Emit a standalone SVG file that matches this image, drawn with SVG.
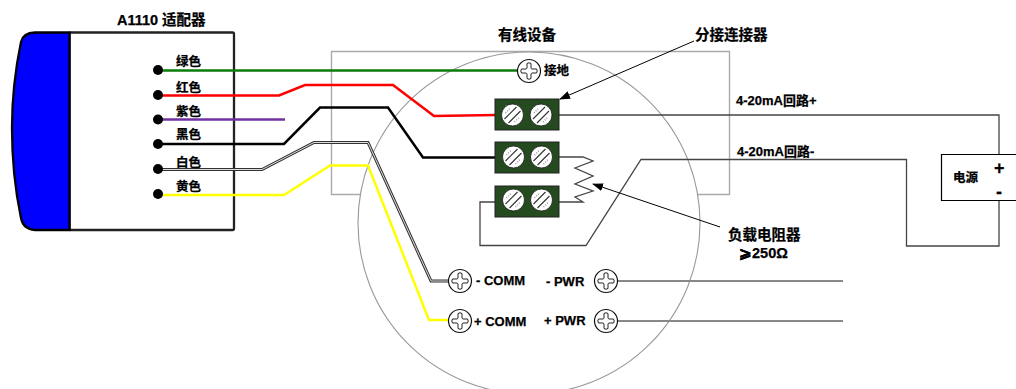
<svg xmlns="http://www.w3.org/2000/svg" xmlns:xlink="http://www.w3.org/1999/xlink" width="1016" height="389" viewBox="0 0 1016 389">
<style>
text{font-family:"Liberation Sans","Noto Sans CJK SC",sans-serif;font-weight:bold;fill:#000;font-size:12.500px;stroke:#000;stroke-width:.25}
.big{font-size:14.500px}
.w{fill:none;stroke-linejoin:miter}
.thin{fill:none;stroke:#444;stroke-width:1.300}
.gray{fill:none;stroke:#aaa;stroke-width:1.400}
.dot{fill:#000}
.block{fill:#254a20;stroke:#222;stroke-width:1}
</style>
<defs>
<marker id="ah" markerWidth="12" markerHeight="10" refX="10" refY="4" orient="auto" markerUnits="userSpaceOnUse"><path d="M0,0L11,4L0,8z" fill="#000"/></marker>
<g id="cross"><circle r="11.500" fill="#fff" stroke="#111" stroke-width="1.200"/><path d="M-2,-7.500Q0,-9 2,-7.500L2,-3Q2.500,-2 3,-2L7.500,-2Q9,0 7.500,2L3,2Q2,2.500 2,3L2,7.500Q0,9 -2,7.500L-2,3Q-2.500,2 -3,2L-7.500,2Q-9,0 -7.500,-2L-3,-2Q-2,-2.500 -2,-3z" fill="#fff" stroke="#222" stroke-width="1"/></g>
<g id="slot"><circle r="11" fill="#fff" stroke="#111" stroke-width="0.800"/><path d="M-8,4L4,-8M-4,8L8,-4" stroke="#333" stroke-width="1.100" fill="none"/><path d="M-7,-2L-2,-7M2,7L7,2" stroke="#999" stroke-width="1.500" stroke-dasharray="1 1.500" fill="none"/></g>
</defs>
<g id="wired-device-box"><path class="gray" d="M331.500,194.500V51.500H729.500V194.500H331.500z"/></g>
<g id="wired-device-circle"><circle cx="529" cy="223" r="171" fill="#fff" stroke="#999" stroke-width="1.100"/></g>
<g id="adapter">
<rect x="69.500" y="32.500" width="164.500" height="197.500" rx="1.500" fill="#fff" stroke="#222" stroke-width="2.300"/>
<path d="M69.500,32.500H35Q23,33 21,42Q12,85 12,128Q12,175 21,218Q23,229 35,230H69.500z" fill="#00f" stroke="#000" stroke-width="2.300"/>
</g>
<g id="connectors">
<path class="w" stroke="#0a7d0a" stroke-width="2.500" d="M158,70.500H518"/>
<path class="w" stroke="#f00" stroke-width="2.500" d="M158,95.500H279L305,85H393L434,116L496,115"/>
<path class="w" stroke="#7030a0" stroke-width="2.500" d="M158,119.500H285"/>
<path class="w" stroke="#000" stroke-width="2.500" d="M158,144H284L320,107.500H388L423,157.500H496"/>
<path class="w" stroke="#333" stroke-width="3" d="M158,169.500H262L314,142.500H368L431,281H449"/>
<path class="w" stroke="#ddd" stroke-width="1" d="M158,169.500H262L314,142.500H368L431,281H449"/>
<path class="w" stroke="#ff0" stroke-width="2.500" d="M158,195H284L330,165.500H368L429,320H450"/>
<path class="thin" d="M559,115H999V154"/>
<path class="thin" d="M999,200V246H906.500V159.500H641L586,245.500H480V202H496"/>
<path class="thin" d="M559,157H583L593,161L575,168L593,176L575,184L593,191L575,197L583,202H559"/>
<path fill="none" stroke="#888" stroke-width="2.200" d="M618,281H843M618,321H843"/>
<path fill="none" stroke="#000" stroke-width="1" marker-end="url(#ah)" d="M694,41L560,99"/>
<path fill="none" stroke="#000" stroke-width="1" marker-end="url(#ah)" d="M720,227L593,184"/>
</g>
<g id="pins">
<circle class="dot" cx="158" cy="70" r="5"/><circle class="dot" cx="158" cy="95" r="5"/><circle class="dot" cx="158" cy="119.500" r="5"/><circle class="dot" cx="158" cy="144" r="5"/><circle class="dot" cx="158" cy="169" r="5"/><circle class="dot" cx="158" cy="194" r="5"/>
</g>
<g id="terminal-1"><rect class="block" x="495" y="99" width="64" height="31"/><use xlink:href="#slot" href="#slot" x="512.500" y="115"/><use xlink:href="#slot" href="#slot" x="541" y="115"/></g>
<g id="terminal-2"><rect class="block" x="495" y="142" width="64" height="31"/><use xlink:href="#slot" href="#slot" x="513.500" y="157"/><use xlink:href="#slot" href="#slot" x="541.500" y="157"/></g>
<g id="terminal-3"><rect class="block" x="495" y="186" width="64" height="31"/><use xlink:href="#slot" href="#slot" x="513.500" y="200"/><use xlink:href="#slot" href="#slot" x="541.500" y="200"/></g>
<g id="ground-screw"><use xlink:href="#cross" href="#cross" x="529" y="71"/><text x="544" y="75">接地</text></g>
<g id="comm-minus"><use xlink:href="#cross" href="#cross" x="460" y="281"/><text x="476" y="285" style="font-size:13px">- COMM</text></g>
<g id="comm-plus"><use xlink:href="#cross" href="#cross" x="460" y="321"/><text x="474" y="326" style="font-size:13px">+ COMM</text></g>
<g id="pwr-minus"><use xlink:href="#cross" href="#cross" x="606" y="281"/><text x="546" y="286" style="font-size:13px">- PWR</text></g>
<g id="pwr-plus"><use xlink:href="#cross" href="#cross" x="606" y="321"/><text x="544" y="325" style="font-size:13px">+ PWR</text></g>
<g id="power-supply"><path d="M1016,154.500H941.500V200.500H1016" fill="#fff" stroke="#000" stroke-width="1.200"/><text x="953" y="182">电源</text><text x="994" y="174" style="font-size:18px">+</text><text x="996" y="198" style="font-size:18px">-</text></g>
<g id="labels">
<text class="big" x="117" y="25">A1110<tspan x="162">适配器</tspan></text>
<text x="176" y="66">绿色</text><text x="176" y="92">红色</text><text x="176" y="116">紫色</text><text x="176" y="139">黑色</text><text x="176" y="167">白色</text><text x="176" y="191">黄色</text>
<text class="big" x="498" y="40">有线设备</text>
<text class="big" x="695" y="40">分接连接器</text>
<text x="736" y="105" style="font-size:13px">4-20mA回路+</text>
<text x="737" y="156" style="font-size:13px">4-20mA回路-</text>
<text class="big" x="728" y="240">负载电阻器</text>
<text class="big" x="739" y="258">⩾250Ω</text>
</g>
</svg>
